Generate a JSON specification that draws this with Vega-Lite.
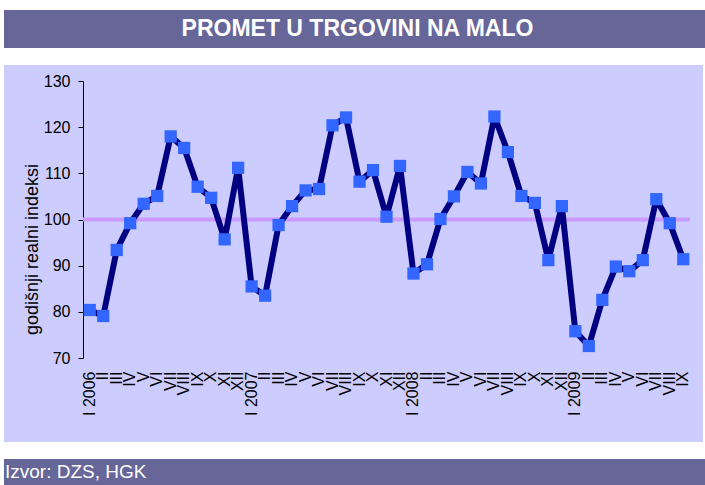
{
  "$schema": "https://vega.github.io/schema/vega-lite/v6.json",
  "padding": {"left": 4, "top": 10, "right": 0, "bottom": 0},
  "background": "white",
  "spacing": 17,
  "config": {"view": {"stroke": null}, "font": "Liberation Sans"},
  "datasets": {
    "trade": [
      {"month": "I 2006", "value": 80.4}, {"month": "II 2006", "value": 79.1}, {"month": "III 2006", "value": 93.4},
      {"month": "IV 2006", "value": 99.2}, {"month": "V 2006", "value": 103.4}, {"month": "VI 2006", "value": 105.1},
      {"month": "VII 2006", "value": 118.0}, {"month": "VIII 2006", "value": 115.5}, {"month": "IX 2006", "value": 107.1},
      {"month": "X 2006", "value": 104.7}, {"month": "XI 2006", "value": 95.7}, {"month": "XII 2006", "value": 111.2},
      {"month": "I 2007", "value": 85.5}, {"month": "II 2007", "value": 83.5}, {"month": "III 2007", "value": 98.8},
      {"month": "IV 2007", "value": 102.9}, {"month": "V 2007", "value": 106.3}, {"month": "VI 2007", "value": 106.6},
      {"month": "VII 2007", "value": 120.4}, {"month": "VIII 2007", "value": 122.1}, {"month": "IX 2007", "value": 108.2},
      {"month": "X 2007", "value": 110.7}, {"month": "XI 2007", "value": 100.6}, {"month": "XII 2007", "value": 111.6},
      {"month": "I 2008", "value": 88.3}, {"month": "II 2008", "value": 90.3}, {"month": "III 2008", "value": 100.1},
      {"month": "IV 2008", "value": 105.0}, {"month": "V 2008", "value": 110.3}, {"month": "VI 2008", "value": 107.8},
      {"month": "VII 2008", "value": 122.3}, {"month": "VIII 2008", "value": 114.6}, {"month": "IX 2008", "value": 105.1},
      {"month": "X 2008", "value": 103.6}, {"month": "XI 2008", "value": 91.2}, {"month": "XII 2008", "value": 102.9},
      {"month": "I 2009", "value": 75.8}, {"month": "II 2009", "value": 72.6}, {"month": "III 2009", "value": 82.6},
      {"month": "IV 2009", "value": 89.8}, {"month": "V 2009", "value": 88.8}, {"month": "VI 2009", "value": 91.2},
      {"month": "VII 2009", "value": 104.4}, {"month": "VIII 2009", "value": 99.2}, {"month": "IX 2009", "value": 91.4}
    ],
    "ref": [{"start": "I 2006", "end": "IX 2009", "level": 100}]
  },
  "vconcat": [
    {
      "width": 701,
      "height": 38,
      "view": {"fill": "#666699", "stroke": null},
      "data": {"values": [{"label": "PROMET U TRGOVINI NA MALO"}]},
      "mark": {"type": "text", "color": "white", "fontSize": 23, "fontWeight": "bold", "font": "Liberation Sans", "align": "center", "baseline": "middle", "dx": 3},
      "encoding": {"text": {"field": "label"}}
    },
    {
      "width": 699,
      "height": 377,
      "view": {"fill": "#CCCCFF", "stroke": null},
      "encoding": {
        "y": {
          "type": "quantitative",
          "scale": {"domain": [70, 130], "range": [293, 16], "nice": false, "zero": false},
          "axis": {
            "orient": "left", "offset": -79, "values": [70, 80, 90, 100, 110, 120, 130],
            "tickSize": 5, "labelPadding": 8, "labelFontSize": 16, "labelColor": "black",
            "domainColor": "black", "tickColor": "black", "grid": false,
            "title": "godišnji realni indeksi", "titleFontSize": 18, "titleFontWeight": "normal",
            "titlePadding": 2, "titleColor": "black", "titleY": 184
          }
        }
      },
      "layer": [
        {
          "data": {"name": "ref"},
          "mark": {"type": "rule", "color": "#CC99FF", "strokeWidth": 4},
          "encoding": {
            "x": {"field": "start", "type": "ordinal", "bandPosition": 0},
            "x2": {"field": "end", "bandPosition": 1},
            "y": {"field": "level", "type": "quantitative"}
          }
        },
        {
          "data": {"name": "trade"},
          "mark": {"type": "line", "color": "#000080", "strokeWidth": 6, "strokeJoin": "round"},
          "encoding": {
            "x": {
              "field": "month", "type": "ordinal", "bandPosition": 0.5,
              "scale": {"type": "band", "range": [79, 686], "paddingInner": 0, "paddingOuter": 0,
                "domain": ["I 2006","II 2006","III 2006","IV 2006","V 2006","VI 2006","VII 2006","VIII 2006","IX 2006","X 2006","XI 2006","XII 2006",
                           "I 2007","II 2007","III 2007","IV 2007","V 2007","VI 2007","VII 2007","VIII 2007","IX 2007","X 2007","XI 2007","XII 2007",
                           "I 2008","II 2008","III 2008","IV 2008","V 2008","VI 2008","VII 2008","VIII 2008","IX 2008","X 2008","XI 2008","XII 2008",
                           "I 2009","II 2009","III 2009","IV 2009","V 2009","VI 2009","VII 2009","VIII 2009","IX 2009"]},
              "axis": {
                "orient": "bottom", "offset": -84, "labelAngle": 270, "labelFontSize": 16, "labelColor": "black",
                "ticks": false, "domain": false, "labelPadding": 13, "title": null, "grid": false,
                "labelOverlap": false, "labelBound": false,
                "labelExpr": "split(datum.label, ' ')[0] == 'I' ? datum.label : split(datum.label, ' ')[0]"
              }
            },
            "y": {"field": "value", "type": "quantitative"}
          }
        },
        {
          "data": {"name": "trade"},
          "mark": {"type": "point", "shape": "square", "size": 150, "filled": true, "color": "#3366FF", "opacity": 1},
          "encoding": {
            "x": {"field": "month", "type": "ordinal", "bandPosition": 0.5},
            "y": {"field": "value", "type": "quantitative"}
          }
        }
      ]
    },
    {
      "width": 701,
      "height": 26,
      "view": {"fill": "#666699", "stroke": null},
      "data": {"values": [{"label": "Izvor: DZS, HGK"}]},
      "mark": {"type": "text", "color": "white", "fontSize": 19, "font": "Liberation Sans", "align": "left", "baseline": "middle", "dx": 1},
      "encoding": {
        "text": {"field": "label"},
        "x": {"datum": 0, "type": "quantitative", "scale": {"domain": [0, 1]}, "axis": null}
      }
    }
  ]
}
